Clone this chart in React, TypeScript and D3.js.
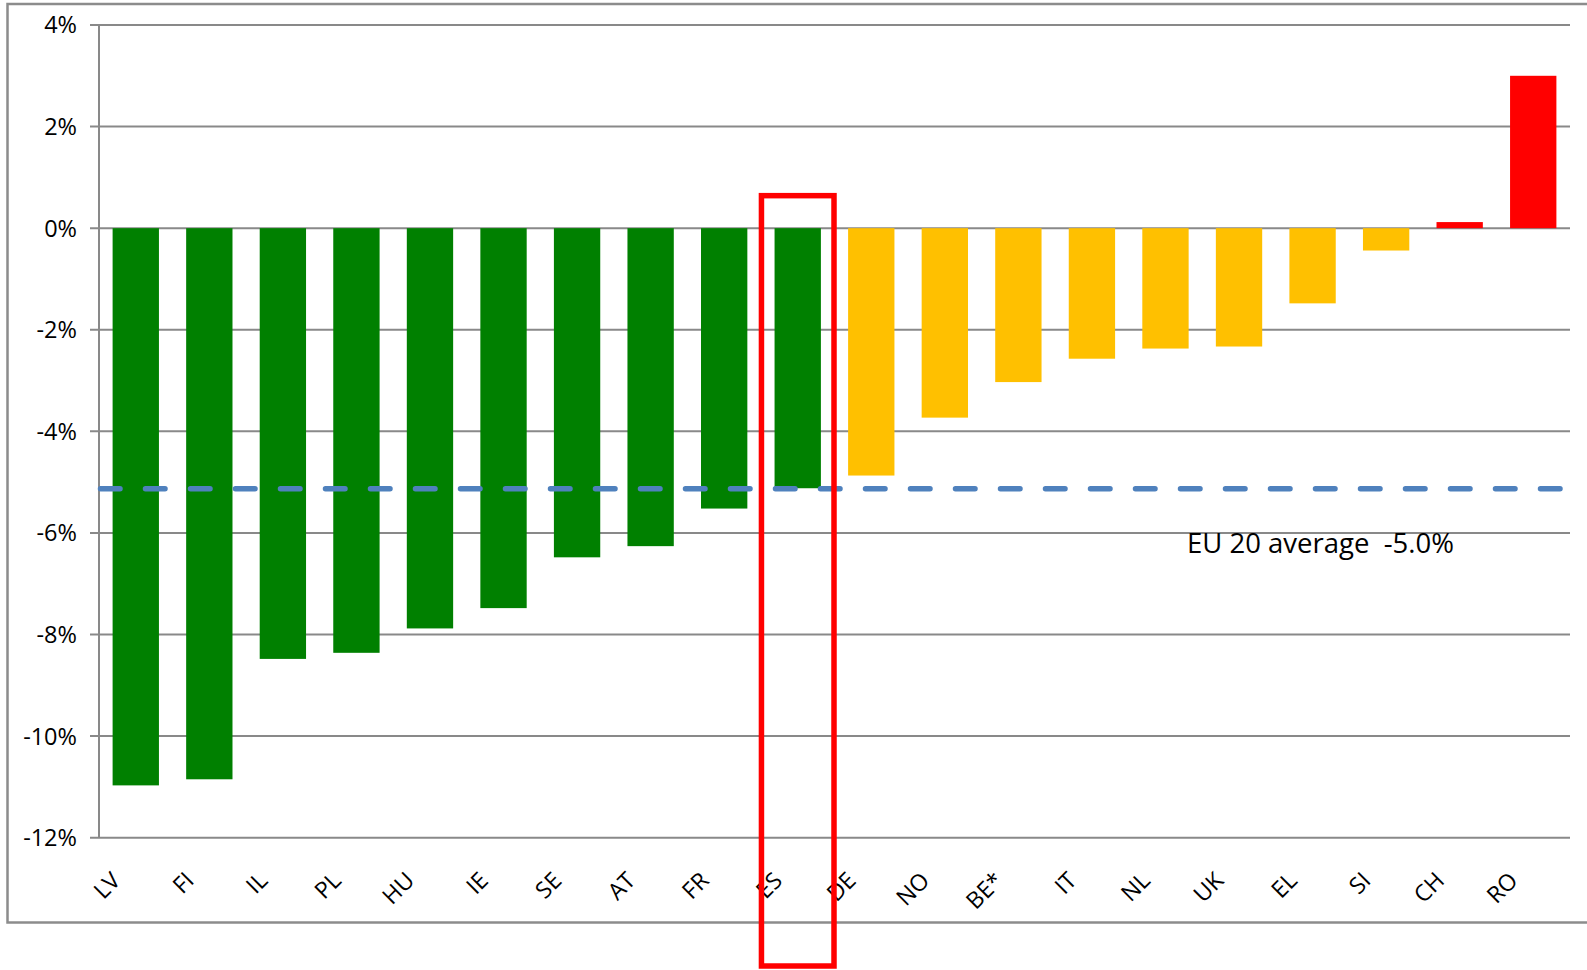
import React from 'react'
import * as d3 from 'd3'

// country codes, left to right
const countries = ['LV', 'FI', 'IL', 'PL', 'HU', 'IE', 'SE', 'AT', 'FR', 'ES', 'DE', 'NO', 'BE*', 'IT', 'NL', 'UK', 'EL', 'SI', 'CH', 'RO']
// change in %
const changes = [-10.97, -10.85, -8.48, -8.36, -7.88, -7.48, -6.48, -6.26, -5.52, -5.12, -4.87, -3.73, -3.03, -2.57, -2.37, -2.33, -1.48, -0.44, 0.12, 3.0]
// colour group for each bar
const groups = ['g', 'g', 'g', 'g', 'g', 'g', 'g', 'g', 'g', 'g', 'y', 'y', 'y', 'y', 'y', 'y', 'y', 'y', 'r', 'r']
const yTicks = [4, 2, 0, -2, -4, -6, -8, -10, -12]
const averageLine = -5.13
const averageLabel = 'EU 20 average  -5.0%'
const highlighted = 'ES'

const W = 1587
const H = 970
const FONT = '"Open Sans", "DejaVu Sans", sans-serif'
const groupColor: Record<string, string> = { g: '#008000', y: '#FFC000', r: '#FF0000' }

const App: React.FC = () => {
  const x = d3.scaleBand<string>().domain(countries).range([99, 1570]).paddingInner(0.37).paddingOuter(0.185)
  const y = d3.scaleLinear().domain([-12, 4]).range([837.7, 25])
  const step = x.step()
  const center = (c: string) => (x(c) ?? 0) + x.bandwidth() / 2

  // highlight box around one country
  const boxLeft = center(highlighted) - step / 2 + 0.5
  const boxRight = center(highlighted) + step / 2 - 0.5

  return (
    <svg width={W} height={H} style={{ position: 'absolute', left: 0, top: 0, background: '#fff' }}>
      {/* outer frame */}
      <rect x={7.5} y={4} width={W + 20} height={918.5} fill="none" stroke="#8c8c8c" strokeWidth={2.5} />

      {/* grid lines + tick marks */}
      {yTicks.map(t => (
        <line key={t} x1={90} x2={1570} y1={y(t)} y2={y(t)} stroke="#898989" strokeWidth={2} />
      ))}
      <line x1={99} x2={99} y1={y(4)} y2={y(-12)} stroke="#898989" strokeWidth={2} />

      {/* y tick labels */}
      {yTicks.map(t => (
        <text key={t} x={77} y={y(t)} dy="0.36em" textAnchor="end" fontSize={23.5} fontFamily={FONT} fill="#000">
          {`${t}%`}
        </text>
      ))}

      {/* bars */}
      {countries.map((c, i) => {
        const v = changes[i]
        return (
          <rect
            key={c}
            x={x(c)}
            y={y(Math.max(0, v))}
            width={x.bandwidth()}
            height={Math.abs(y(v) - y(0))}
            fill={groupColor[groups[i]]}
          />
        )
      })}

      {/* average line */}
      <line
        x1={100.5}
        x2={1568}
        y1={y(averageLine)}
        y2={y(averageLine)}
        stroke="#4F81BD"
        strokeWidth={5.5}
        strokeDasharray="19.5 25.5"
        strokeLinecap="round"
      />
      <text x={1187} y={553} fontSize={27} fontFamily={FONT} fill="#000" style={{ whiteSpace: 'pre' }} textLength={267} lengthAdjust="spacingAndGlyphs">
        {averageLabel}
      </text>

      {/* x labels, rotated */}
      {countries.map(c => {
        const lx = center(c) - 14
        const ly = 882
        return (
          <text key={c} x={lx} y={ly} transform={`rotate(-45 ${lx} ${ly})`} textAnchor="end" fontSize={23} fontFamily={FONT} fill="#000">
            {c}
          </text>
        )
      })}

      {/* highlight box */}
      <rect
        x={boxLeft}
        y={y(0.64)}
        width={boxRight - boxLeft}
        height={966 - y(0.64)}
        fill="none"
        stroke="#FF0000"
        strokeWidth={5.5}
      />
    </svg>
  )
}

export default App
